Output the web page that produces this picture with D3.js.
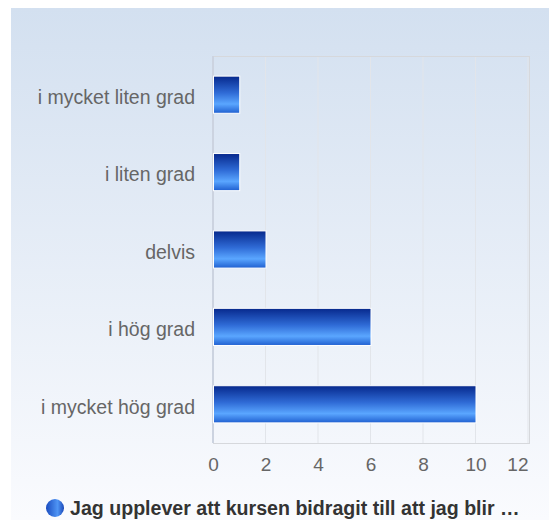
<!DOCTYPE html>
<html>
<head>
<meta charset="utf-8">
<script src="https://cdn.jsdelivr.net/npm/d3@7"></script>
<style>
  body { margin: 0; background: #fff; }
  svg { display: block; font-family: Arial, "Liberation Sans", sans-serif; }
</style>
</head>
<body>
<svg id="chart" width="549" height="520"></svg>
<script>
"use strict";

const categories = [
  "i mycket liten grad",
  "i liten grad",
  "delvis",
  "i hög grad",
  "i mycket hög grad"
];
const counts = [1, 1, 2, 6, 10];
const xTicks = [0, 2, 4, 6, 8, 10, 12];
const seriesName = "Jag upplever att kursen bidragit till att jag blir …";

const svg = d3.select("#chart");
const margin = { left: 213, right: 20, top: 56, bottom: 77 };
const width = 549, height = 520;

const defs = svg.append("defs");

const bg = defs.append("linearGradient")
  .attr("id", "bg").attr("x1", 0).attr("y1", 0).attr("x2", 0).attr("y2", 1);
bg.append("stop").attr("offset", "0%").attr("stop-color", "#d3e0f0");
bg.append("stop").attr("offset", "100%").attr("stop-color", "#fafbfe");

const barGrad = defs.append("linearGradient")
  .attr("id", "bar").attr("x1", 0).attr("y1", 0).attr("x2", 0).attr("y2", 1);
barGrad.append("stop").attr("offset", "0%").attr("stop-color", "#06288c");
barGrad.append("stop").attr("offset", "45%").attr("stop-color", "#2f6bd6");
barGrad.append("stop").attr("offset", "75%").attr("stop-color", "#5aa6ff");
barGrad.append("stop").attr("offset", "100%").attr("stop-color", "#1f5fd0");

const dot = defs.append("linearGradient")
  .attr("id", "dot").attr("x1", 0).attr("y1", 0).attr("x2", 1).attr("y2", 0);
dot.append("stop").attr("offset", "0%").attr("stop-color", "#1a4cc0");
dot.append("stop").attr("offset", "65%").attr("stop-color", "#4f95f5");
dot.append("stop").attr("offset", "100%").attr("stop-color", "#1a48b8");

svg.append("rect")
  .attr("x", 11).attr("y", 8)
  .attr("width", width - 11).attr("height", height - 8)
  .attr("fill", "url(#bg)");

const x = d3.scaleLinear()
  .domain([0, 12])
  .range([margin.left, 528]);

const y = d3.scaleBand()
  .domain(categories)
  .range([margin.top, height - margin.bottom])
  .paddingInner(0.52)
  .paddingOuter(0.26);

// gridlines
svg.append("g")
  .selectAll("line")
  .data(xTicks.slice(1))
  .enter()
  .append("line")
  .attr("x1", (d) => x(d)).attr("x2", (d) => x(d))
  .attr("y1", margin.top).attr("y2", height - margin.bottom)
  .attr("stroke", "#e2e5ea")
  .attr("stroke-width", 1);

// plot border
svg.append("rect")
  .attr("x", margin.left + 0.5)
  .attr("y", margin.top + 0.5)
  .attr("width", 529 - margin.left)
  .attr("height", height - margin.bottom - margin.top)
  .attr("fill", "none")
  .attr("stroke", "#d6d8dc");

// left axis line
svg.append("line")
  .attr("x1", margin.left).attr("x2", margin.left)
  .attr("y1", margin.top).attr("y2", height - margin.bottom)
  .attr("stroke", "#ccd3e0")
  .attr("stroke-width", 2);

// bars
svg.append("g")
  .selectAll("rect")
  .data(categories)
  .enter()
  .append("rect")
  .attr("x", x(0) + 0.5)
  .attr("y", (d) => y(d))
  .attr("width", (d, i) => x(counts[i]) - x(0))
  .attr("height", y.bandwidth())
  .attr("fill", "url(#bar)")
  .attr("stroke", "#ffffff")
  .attr("stroke-width", 1);

// y labels
const yAxis = svg.append("g")
  .attr("transform", `translate(${margin.left},0)`)
  .call(d3.axisLeft(y).tickSize(0).tickPadding(18));
yAxis.select(".domain").remove();
yAxis.selectAll("text")
  .attr("font-size", 19.5)
  .attr("dy", "0.48em")
  .attr("font-family", "Arial, 'Liberation Sans', sans-serif")
  .attr("fill", "#666666");

// x labels
const xAxis = svg.append("g")
  .attr("transform", `translate(0,${height - margin.bottom})`)
  .call(d3.axisBottom(x).tickValues(xTicks).tickSize(0).tickPadding(15));
xAxis.select(".domain").remove();
xAxis.selectAll("text")
  .attr("font-size", 19)
  .attr("font-family", "Arial, 'Liberation Sans', sans-serif")
  .attr("fill", "#666666")
  .attr("text-anchor", (d) => (d === 12 ? "end" : "middle"));

// legend
svg.append("circle")
  .attr("cx", 55).attr("cy", 508).attr("r", 9)
  .attr("fill", "url(#dot)");
svg.append("text")
  .attr("x", 70).attr("y", 515)
  .attr("font-size", 19.6)
  .attr("font-weight", "bold")
  .attr("fill", "#333333")
  .text(seriesName);
</script>
</body>
</html>
